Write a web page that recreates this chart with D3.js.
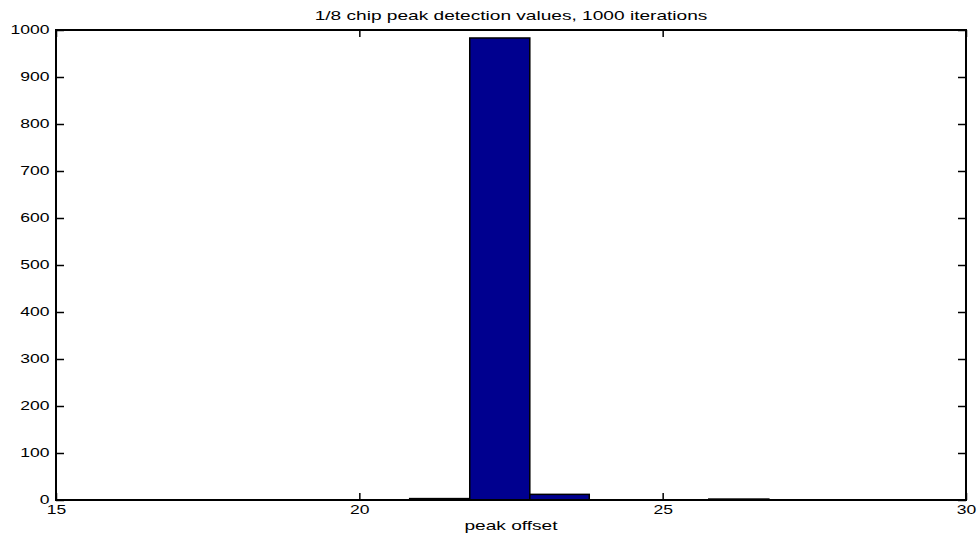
<!DOCTYPE html>
<html>
<head>
<meta charset="utf-8">
<script src="https://cdn.jsdelivr.net/npm/d3@7"></script>
<style>
  body { margin: 0; background: #fff; }
  text { font-family: "Liberation Sans", Arial, sans-serif; fill: #000; }
</style>
</head>
<body>
<script>
// histogram bins (lower edges) and counts
const binEdges = [20.83, 21.82, 22.81, 23.79, 24.78, 25.76, 26.75];
const counts = [3, 983, 12, 0, 0, 2];
const xTicks = [15, 20, 25, 30];
const yTicks = [0, 100, 200, 300, 400, 500, 600, 700, 800, 900, 1000];
const title = "1/8 chip peak detection values, 1000 iterations";
const xLabel = "peak offset";

const W = 980, H = 537;
const plotLeft = 56, plotRight = 966, plotTop = 30, plotBottom = 500;
const sx = 1.46; // text is stretched horizontally in the picture

const svg = d3.select("body").append("svg")
    .attr("width", W)
    .attr("height", H);

const x = d3.scaleLinear().domain([15, 30]).range([plotLeft, plotRight]);
const y = d3.scaleLinear().domain([0, 1000]).range([plotBottom, plotTop]);

const bins = counts.map((c, i) => ({x0: binEdges[i], x1: binEdges[i + 1], n: c}));

// bars
svg.append("g").selectAll("rect")
    .data(bins)
    .enter()
    .append("rect")
        .attr("x", d => x(d.x0))
        .attr("y", d => y(d.n))
        .attr("width", d => x(d.x1) - x(d.x0))
        .attr("height", d => y(0) - y(d.n))
        .attr("fill", "#00008f")
        .attr("stroke", "#000")
        .attr("stroke-width", 1.5);

function styleAxis(g) {
    g.select(".domain").remove();
    g.selectAll("line").attr("stroke", "#000").attr("stroke-width", 1.5);
    g.selectAll("text")
        .attr("font-size", 12)
        .attr("font-family", "Liberation Sans, Arial, sans-serif")
        .attr("transform", "scale(" + sx + ",1)");
}

// bottom axis
svg.append("g")
    .attr("transform", "translate(0," + plotBottom + ")")
    .call(d3.axisBottom(x).tickValues(xTicks).tickSize(-7).tickPadding(5).tickFormat(d3.format("d")))
    .call(styleAxis);

// top mirror ticks
svg.append("g")
    .attr("transform", "translate(0," + plotTop + ")")
    .call(d3.axisTop(x).tickValues(xTicks).tickSize(-7).tickFormat(""))
    .call(styleAxis);

// left axis
svg.append("g")
    .attr("transform", "translate(" + plotLeft + ",0)")
    .call(d3.axisLeft(y).tickValues(yTicks).tickSize(-8).tickPadding(4.5).tickFormat(d3.format("d")))
    .call(styleAxis);

// right mirror ticks
svg.append("g")
    .attr("transform", "translate(" + plotRight + ",0)")
    .call(d3.axisRight(y).tickValues(yTicks).tickSize(-8).tickFormat(""))
    .call(styleAxis);

// box
svg.append("rect")
    .attr("x", plotLeft)
    .attr("y", plotTop)
    .attr("width", plotRight - plotLeft)
    .attr("height", plotBottom - plotTop)
    .attr("fill", "none")
    .attr("stroke", "#000")
    .attr("stroke-width", 2);

// title and x label
const cx = (plotLeft + plotRight) / 2;
svg.append("text")
    .attr("transform", "translate(" + cx + ",19.5) scale(1.47,1)")
    .attr("text-anchor", "middle")
    .attr("font-size", 13)
    .text(title);

svg.append("text")
    .attr("transform", "translate(" + cx + ",530) scale(1.47,1)")
    .attr("text-anchor", "middle")
    .attr("font-size", 13)
    .text(xLabel);
</script>
</body>
</html>
